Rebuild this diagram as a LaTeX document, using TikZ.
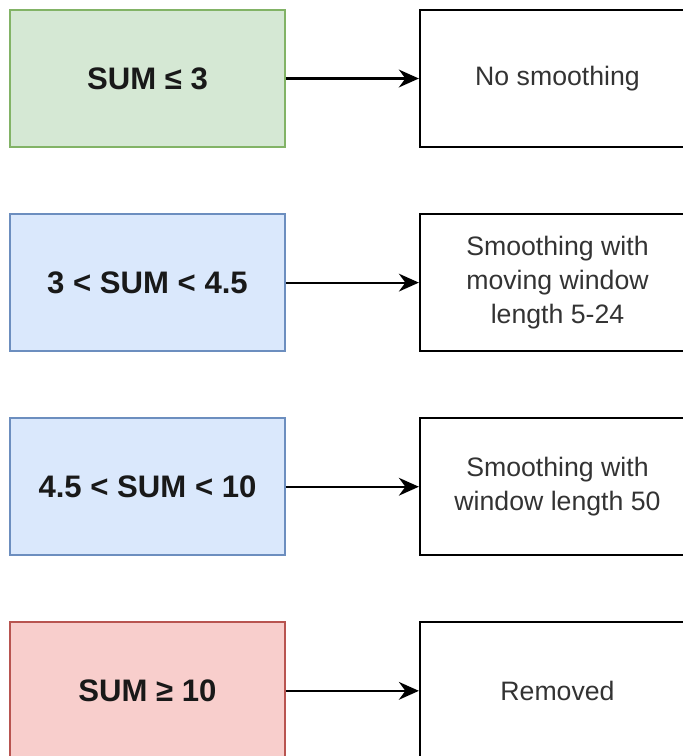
\documentclass[tikz,border=0pt]{standalone}
\usepackage{fontspec}
\setmainfont{Liberation Sans}
\usetikzlibrary{positioning,arrows.meta}
\definecolor{greenfill}{HTML}{D5E8D4}
\definecolor{greenline}{HTML}{82B366}
\definecolor{bluefill}{HTML}{DAE8FC}
\definecolor{blueline}{HTML}{6C8EBF}
\definecolor{redfill}{HTML}{F8CECC}
\definecolor{redline}{HTML}{B85450}

\begin{document}
\begin{tikzpicture}[x=0.45pt, y=0.45pt, node distance=29.4pt and 59.85pt,
    sumbox/.style={draw, line width=0.8pt, minimum width=123.75pt, minimum height=61.65pt, text=black!90, font=\fontsize{14}{17}\selectfont\bfseries},
    resbox/.style={draw, line width=1pt, minimum width=123.75pt, minimum height=61.65pt, align=center, text=black!80, font=\fontsize{12}{15.3}\selectfont},
    link/.style={-{Stealth[length=9pt, width=8pt]}, line width=1pt}]
        \clip (0,0) rectangle (683,-756);
        \node[sumbox, fill=greenfill, draw=greenline] (low) at (147.5,-78.5) {SUM ≤ 3};
        \node[sumbox, fill=bluefill, draw=blueline, below=of low] (midlow) {3 < SUM < 4.5};
        \node[sumbox, fill=bluefill, draw=blueline, below=of midlow] (midhigh) {4.5 < SUM < 10};
        \node[sumbox, fill=redfill, draw=redline, below=of midhigh] (high) {SUM ≥ 10};
        \node[resbox, right=of low] (none) {No smoothing};
        \node[resbox, right=of midlow] (moving) {Smoothing with\\moving window\\length 5-24};
        \node[resbox, right=of midhigh] (fixed) {Smoothing with\\window length 50};
        \node[resbox, right=of high] (removed) {Removed};
        \draw[link] (low.east) -- (none.west);
        \draw[link] (midlow.east) -- (moving.west);
        \draw[link] (midhigh.east) -- (fixed.west);
        \draw[link] (high.east) -- (removed.west);
    \end{tikzpicture}
\end{document}
